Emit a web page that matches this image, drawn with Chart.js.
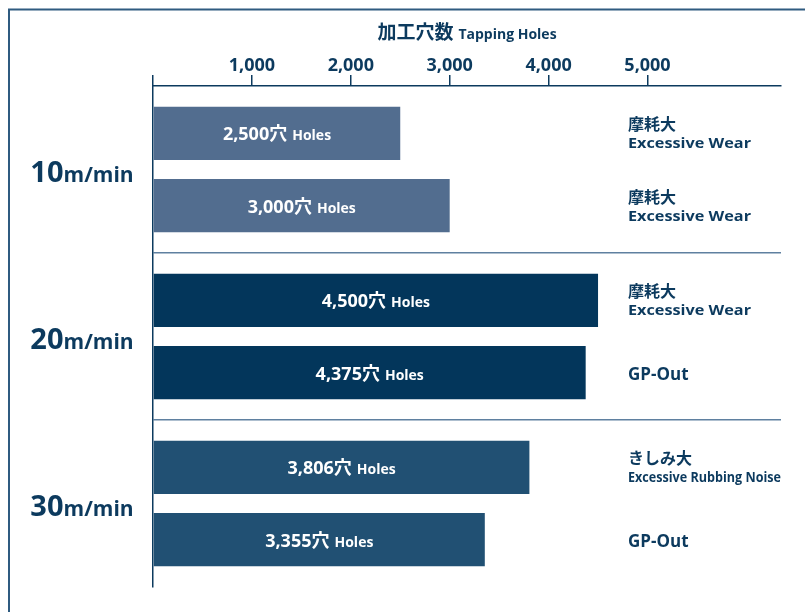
<!DOCTYPE html>
<html>
<head>
<meta charset="utf-8">
<script src="https://cdn.jsdelivr.net/npm/chart.js@4"></script>
<style>
  html, body { margin: 0; padding: 0; background: #fff; }
  #wrap { width: 805px; height: 612px; position: relative; }
</style>
</head>
<body>
<div id="wrap"><canvas id="chart" width="805" height="612"></canvas></div>
<script>
// speeds (categories) and the two test runs per speed
const speeds = ["10", "20", "30"];
const firstRun = [2500, 4500, 3806];
const secondRun = [3000, 4375, 3355];
const firstResult = [["摩耗大", "Excessive Wear"], ["摩耗大", "Excessive Wear"], ["きしみ大", "Excessive Rubbing Noise"]];
const secondResult = [["摩耗大", "Excessive Wear"], ["GP-Out"], ["GP-Out"]];
const xTicks = [0, 1000, 2000, 3000, 4000, 5000];

const barColors = ["#526d8f", "#03365b", "#215073"];
const ink = "#0c3a5e";
const FONT = '"Open Sans", "Noto Sans CJK JP", sans-serif';

// draw a row of [text, size, gap] pieces
function drawPieces(ctx, pieces, x, y, align) {
  let total = 0;
  pieces.forEach(p => {
    ctx.font = "bold " + p[1] + "px " + FONT;
    total += ctx.measureText(p[0]).width + (p[2] || 0);
  });
  let cx = align === "center" ? x - total / 2 : x;
  pieces.forEach(p => {
    ctx.font = "bold " + p[1] + "px " + FONT;
    ctx.fillText(p[0], cx, y);
    cx += ctx.measureText(p[0]).width + (p[2] || 0);
  });
}

const decor = {
  id: "decor",
  beforeDraw(chart) {
    const ctx = chart.ctx;
    ctx.save();
    ctx.strokeStyle = "#2f5b80";
    ctx.lineWidth = 2;
    ctx.beginPath();
    ctx.moveTo(9, 612);
    ctx.lineTo(9, 9.5);
    ctx.lineTo(805, 9.5);
    ctx.stroke();
    ctx.restore();
  },
  afterDatasetsDraw(chart) {
    const ctx = chart.ctx;
    const y = chart.scales.y;
    ctx.save();
    ctx.textAlign = "left";
    ctx.textBaseline = "alphabetic";
    ctx.fillStyle = ink;

    // axis title
    drawPieces(ctx, [["加工穴数", 19, 5], ["Tapping Holes", 14]], 467, 39, "center");

    // speed labels
    speeds.forEach((s, i) => {
      const py = y.getPixelForValue(i) + 12;
      drawPieces(ctx, [[s, 29], ["m/min", 21]], 82, py, "center");
    });

    // values inside bars and results on the right
    const results = [firstResult, secondResult];
    [0, 1].forEach(d => {
      const meta = chart.getDatasetMeta(d);
      meta.data.forEach((bar, i) => {
        const v = chart.data.datasets[d].data[i];
        const cx = (bar.x + bar.base) / 2;
        ctx.fillStyle = "#ffffff";
        drawPieces(ctx, [[v.toLocaleString("en-US") + "穴", 18, 5], ["Holes", 14]], cx, bar.y + 7, "center");

        ctx.fillStyle = ink;
        const lines = results[d][i];
        if (lines.length === 1) {
          drawPieces(ctx, [[lines[0], 17]], 628, bar.y + 7, "left");
        } else {
          drawPieces(ctx, [[lines[0], 16]], 628, bar.y - 3, "left");
          ctx.font = "bold 15px " + FONT;
          const w = ctx.measureText(lines[1]).width;
          const maxW = lines[1].length > 16 ? 153 : 123;
          ctx.save();
          ctx.translate(628, bar.y + 15);
          ctx.scale(maxW / w, 1);
          ctx.fillText(lines[1], 0, 0);
          ctx.restore();
        }
      });
    });
    ctx.restore();
  }
};

new Chart(document.getElementById("chart"), {
  type: "bar",
  data: {
    labels: speeds,
    datasets: [
      { data: firstRun, backgroundColor: barColors },
      { data: secondRun, backgroundColor: barColors }
    ]
  },
  options: {
    indexAxis: "y",
    responsive: false,
    animation: false,
    categoryPercentage: 0.866,
    barPercentage: 0.736,
    layout: { padding: { left: 0, top: 0, right: 24, bottom: 25 } },
    plugins: { legend: { display: false }, tooltip: { enabled: false } },
    scales: {
      x: {
        position: "top",
        min: 0,
        max: 6350,
        afterBuildTicks: scale => { scale.ticks = xTicks.map(v => ({ value: v })); },
        afterFit: scale => { scale.height = 86; },
        ticks: {
          color: ink,
          font: { family: FONT, size: 18, weight: "bold", lineHeight: 1 },
          padding: 0,
          maxRotation: 0,
          callback: v => (v === 0 ? "" : v.toLocaleString("en-US"))
        },
        grid: { drawOnChartArea: false, tickLength: 11, color: ink, lineWidth: 1.5 },
        border: { display: true, color: ink, width: 1.5 }
      },
      y: {
        afterFit: scale => { scale.width = 153; },
        ticks: { display: false },
        grid: {
          drawTicks: false,
          lineWidth: 1.5,
          color: c => (c.index === 1 || c.index === 2 ? "#5f80a0" : "rgba(0,0,0,0)")
        },
        border: { display: true, color: ink, width: 1.5 }
      }
    }
  },
  plugins: [decor]
});
</script>
</body>
</html>
